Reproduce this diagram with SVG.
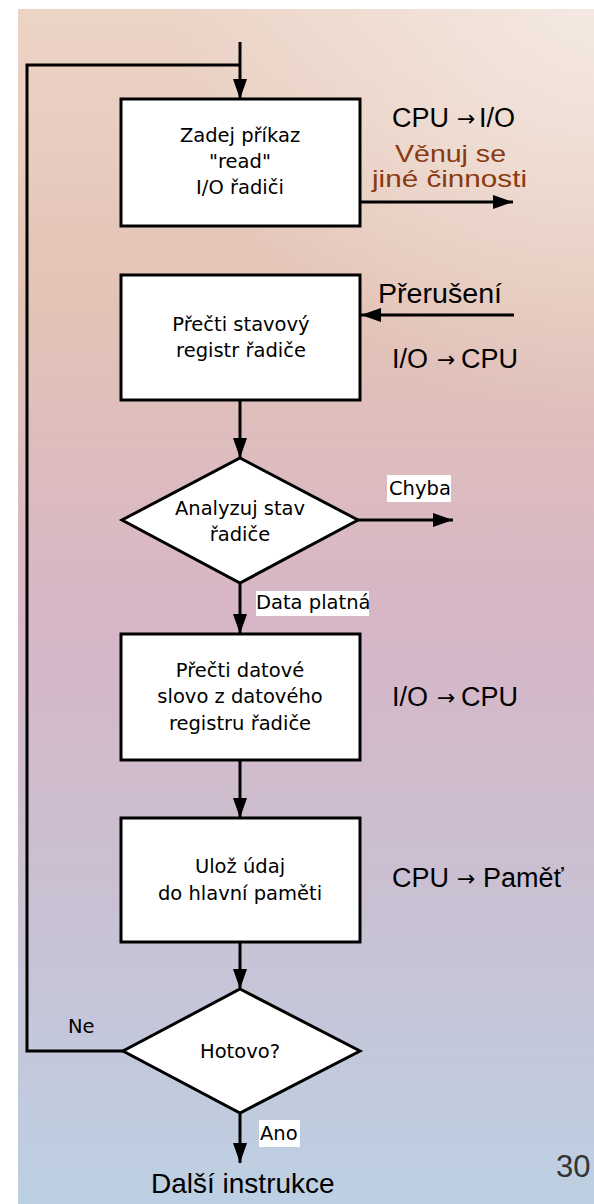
<svg xmlns="http://www.w3.org/2000/svg" width="594" height="1204" viewBox="0 0 594 1204">
<defs>
<linearGradient id="bg" x1="0" y1="0" x2="0" y2="1">
<stop offset="0" stop-color="#ecd4c7"/>
<stop offset="0.25" stop-color="#e3c3b6"/>
<stop offset="0.5" stop-color="#d7b6c6"/>
<stop offset="0.75" stop-color="#c9c1d3"/>
<stop offset="1" stop-color="#bdd0e3"/>
</linearGradient>
<radialGradient id="hl" cx="594" cy="0" r="420" gradientUnits="userSpaceOnUse">
<stop offset="0" stop-color="#f6eee8" stop-opacity="0.8"/>
<stop offset="1" stop-color="#f6eee8" stop-opacity="0"/>
</radialGradient>
<marker id="ah" markerUnits="userSpaceOnUse" markerWidth="20" markerHeight="14" refX="20" refY="7" orient="auto">
<path d="M0,0 L20,7 L0,14 z" fill="#000"/>
</marker>
<style>
.box{fill:#fff;stroke:#000;stroke-width:3}
.ln{fill:none;stroke:#000;stroke-width:3}
.arr{fill:none;stroke:#000;stroke-width:3;marker-end:url(#ah)}
.t{font-family:"DejaVu Sans",sans-serif;font-size:19.5px;fill:#000;text-anchor:middle}
.lb{font-family:"DejaVu Sans",sans-serif;font-size:19.5px;fill:#000}
.r{font-family:"Liberation Sans",Arial,sans-serif;font-size:27px;fill:#000}
.ar{font-family:"DejaVu Sans",sans-serif;font-size:22px}
.br{font-family:"Liberation Sans",Arial,sans-serif;font-size:24px;fill:#8a3a10}
.wb{fill:#fff}
</style>
</defs>
<rect x="18" y="9" width="576" height="1195" fill="url(#bg)"/>
<rect x="18" y="9" width="576" height="1195" fill="url(#hl)"/>

<g id="connectors">
<line class="arr" x1="240" y1="42" x2="240" y2="99"/>
<polyline class="ln" points="123,1051 27,1051 27,65 240,65"/>
<line class="arr" x1="360" y1="202" x2="513" y2="202"/>
<line class="arr" x1="514" y1="315" x2="361" y2="315"/>
<line class="arr" x1="240" y1="400" x2="240" y2="458"/>
<line class="arr" x1="358" y1="520" x2="453" y2="520"/>
<line class="arr" x1="240" y1="583" x2="240" y2="634"/>
<line class="arr" x1="240" y1="760" x2="240" y2="818"/>
<line class="arr" x1="240" y1="942" x2="240" y2="989"/>
<line class="arr" x1="240" y1="1113" x2="240" y2="1163"/>
<rect class="wb" x="387" y="475" width="64" height="27"/>
<text class="lb" x="389" y="495">Chyba</text>
<rect class="wb" x="256" y="591" width="113" height="25"/>
<text class="lb" x="256" y="609">Data platná</text>
<text class="lb" x="68" y="1033">Ne</text>
<rect class="wb" x="259" y="1120" width="41" height="27"/>
<text class="lb" x="260" y="1140">Ano</text>
</g>

<g id="n1">
<rect class="box" x="121" y="99" width="239" height="127"/>
<text class="t" x="240" y="142">Zadej příkaz</text>
<text class="t" x="240" y="168">"read"</text>
<text class="t" x="240" y="194">I/O řadiči</text>
</g>
<g id="n2">
<rect class="box" x="121" y="275" width="239" height="125"/>
<text class="t" x="241" y="331">Přečti stavový</text>
<text class="t" x="241" y="357">registr řadiče</text>
</g>
<g id="d1">
<polygon class="box" points="240,458 358,520 240,583 122,520"/>
<text class="t" x="240" y="515">Analyzuj stav</text>
<text class="t" x="240" y="541">řadiče</text>
</g>
<g id="n3">
<rect class="box" x="121" y="634" width="239" height="126"/>
<text class="t" x="240" y="677">Přečti datové</text>
<text class="t" x="240" y="703">slovo z datového</text>
<text class="t" x="240" y="730">registru řadiče</text>
</g>
<g id="n4">
<rect class="box" x="121" y="818" width="239" height="124"/>
<text class="t" x="240" y="873">Ulož údaj</text>
<text class="t" x="240" y="900">do hlavní paměti</text>
</g>
<g id="d2">
<polygon class="box" points="240,989 360,1051 240,1113 123,1051"/>
<text class="t" x="240" y="1058">Hotovo?</text>
</g>

<g id="labels">
<text class="r" y="127"><tspan x="392">CPU</tspan><tspan class="ar" x="457" dy="-1">→</tspan><tspan x="479" dy="1">I/O</tspan></text>
<text class="br" x="395" y="162" textLength="111" lengthAdjust="spacingAndGlyphs">Věnuj se</text>
<text class="br" x="372" y="187" textLength="155" lengthAdjust="spacingAndGlyphs">jiné činnosti</text>
<text class="r" x="378" y="303" textLength="124" lengthAdjust="spacingAndGlyphs">Přerušení</text>
<text class="r" y="368"><tspan x="392">I/O</tspan><tspan class="ar" x="437" dy="-1">→</tspan><tspan x="461" dy="1">CPU</tspan></text>
<text class="r" y="706"><tspan x="392">I/O</tspan><tspan class="ar" x="437" dy="-1">→</tspan><tspan x="461" dy="1">CPU</tspan></text>
<text class="r" y="887"><tspan x="392">CPU</tspan><tspan class="ar" x="457" dy="-1">→</tspan><tspan x="483" dy="1">Paměť</tspan></text>
<text class="r" x="151" y="1193" style="font-size:28px">Další instrukce</text>
<text class="r" x="556" y="1177" style="font-size:31px;fill:#333">30</text>
</g>
</svg>
